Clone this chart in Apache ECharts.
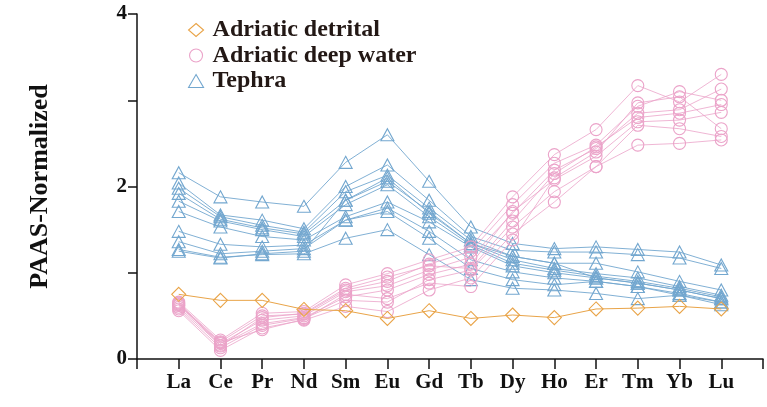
<!DOCTYPE html>
<html>
<head>
<meta charset="utf-8">
<script src="https://cdn.jsdelivr.net/npm/echarts@6/dist/echarts.min.js"></script>
<style>html,body{margin:0;padding:0;background:#fff;}#c{width:767px;height:407px;}</style>
</head>
<body>
<div id="c"></div>
<script>
const elements = ['La','Ce','Pr','Nd','Sm','Eu','Gd','Tb','Dy','Ho','Er','Tm','Yb','Lu'];
const yTicks = ['0','2','4'];

const detrital = [0.75,0.68,0.68,0.575,0.56,0.47,0.56,0.47,0.51,0.48,0.58,0.59,0.61,0.58];

const deepWater1 = [0.66,0.22,0.53,0.55,0.86,0.99,1.15,1.30,1.88,2.37,2.66,3.17,2.98,3.30];
const deepWater2 = [0.64,0.20,0.50,0.52,0.80,0.90,1.10,1.25,1.79,2.27,2.48,2.93,3.10,3.00];
const deepWater3 = [0.62,0.18,0.45,0.50,0.78,0.85,1.03,1.18,1.69,2.19,2.44,2.85,2.89,3.13];
const deepWater4 = [0.60,0.16,0.41,0.48,0.72,0.80,0.98,1.10,1.71,2.08,2.35,2.75,2.77,2.86];
const deepWater5 = [0.58,0.13,0.39,0.47,0.68,0.66,0.92,1.03,1.53,1.94,2.23,2.71,2.67,2.58];
const deepWater6 = [0.56,0.10,0.36,0.45,0.61,0.55,0.80,0.94,1.45,1.82,2.23,2.48,2.50,2.54];
const deepWater7 = [0.63,0.19,0.34,0.46,0.75,0.70,0.88,0.84,1.38,2.10,2.40,2.97,3.04,2.67];
const deepWater8 = [0.65,0.15,0.48,0.53,0.82,0.95,1.08,1.05,1.60,2.15,2.46,2.80,2.85,2.95];

const tephra1  = [2.16,1.88,1.82,1.77,2.28,2.60,2.06,1.53,1.34,1.28,1.30,1.27,1.24,1.09];
const tephra2  = [2.04,1.67,1.61,1.51,2.00,2.25,1.84,1.42,1.26,1.24,1.24,1.21,1.17,1.05];
const tephra3  = [1.98,1.65,1.55,1.47,1.94,2.13,1.75,1.38,1.19,1.11,1.11,1.01,0.90,0.80];
const tephra4  = [1.92,1.62,1.52,1.45,1.84,2.06,1.71,1.34,1.15,1.05,0.99,0.94,0.84,0.74];
const tephra5  = [1.83,1.60,1.50,1.42,1.79,2.02,1.65,1.32,1.11,1.03,0.96,0.90,0.82,0.72];
const tephra6  = [1.71,1.53,1.42,1.38,1.65,1.82,1.59,1.30,1.08,1.00,0.94,0.88,0.80,0.70];
const tephra7  = [1.48,1.33,1.30,1.32,1.61,1.75,1.48,1.15,1.01,0.94,0.90,0.84,0.76,0.66];
const tephra8  = [1.36,1.22,1.25,1.28,1.61,1.71,1.40,1.05,0.92,0.86,0.90,0.84,0.74,0.66];
const tephra9  = [1.27,1.18,1.21,1.22,1.40,1.50,1.21,0.92,0.82,0.80,0.76,0.70,0.74,0.63];
const tephra10 = [1.25,1.17,1.22,1.25,1.84,2.10,1.69,1.34,1.19,1.11,0.94,0.88,0.80,0.70];

const deepWaterSets = [deepWater1,deepWater2,deepWater3,deepWater4,deepWater5,deepWater6,deepWater7,deepWater8];
const tephraSets = [tephra1,tephra2,tephra3,tephra4,tephra5,tephra6,tephra7,tephra8,tephra9,tephra10];

const FONT = '"Liberation Serif","Times New Roman",serif';
const cats = [''].concat(elements, ['']);
const pad = a => [null].concat(a, [null]);

const C_DET = '#E9A448';
const C_DW = '#EBA3C9';
const C_TE = '#73A7CF';

function mk(name, data, color, symbol, size, lw, z) {
  return {
    name: name, type: 'line', data: pad(data), symbol: symbol, symbolSize: size,
    showSymbol: true, z: z,
    lineStyle: {color: color, width: lw},
    itemStyle: {color: 'rgba(255,255,255,0)', borderColor: color, borderWidth: 1.1},
    emphasis: {disabled: true}, animation: false
  };
}

const series = [];
tephraSets.forEach(d => series.push(mk('Tephra', d, C_TE, 'triangle', [13, 12], 0.9, 2)));
deepWaterSets.forEach(d => series.push(mk('Adriatic deep water', d, C_DW, 'circle', 12, 0.8, 3)));
series.push(mk('Adriatic detrital', detrital, C_DET, 'diamond', [14, 14], 1, 4));

const chart = echarts.init(document.getElementById('c'), null, {renderer: 'canvas'});
chart.setOption({
  animation: false,
  backgroundColor: '#fff',
  grid: {left: 137, right: 4, top: 14, bottom: 48, containLabel: false},
  legend: {
    orient: 'vertical', left: 183, top: 13,
    itemWidth: 15, itemHeight: 13, itemGap: 1.5,
    data: [
      {name: 'Adriatic detrital', icon: 'diamond', itemStyle: {color: 'rgba(255,255,255,0)', borderColor: C_DET, borderWidth: 1.1}},
      {name: 'Adriatic deep water', icon: 'circle', itemStyle: {color: 'rgba(255,255,255,0)', borderColor: C_DW, borderWidth: 1.1}},
      {name: 'Tephra', icon: 'triangle', itemStyle: {color: 'rgba(255,255,255,0)', borderColor: C_TE, borderWidth: 1.1}}
    ],
    textStyle: {fontFamily: FONT, fontWeight: 'bold', fontSize: 24, lineHeight: 20, color: '#231815', padding: [0,0,0,4]},
    selectedMode: false
  },
  xAxis: {
    type: 'category', data: cats, boundaryGap: false,
    axisLine: {lineStyle: {color: '#111', width: 1.5}},
    axisTick: {show: true, interval: 0, length: 10, lineStyle: {color: '#111', width: 1.5}},
    axisLabel: {interval: 0, fontFamily: FONT, fontWeight: 'bold', fontSize: 21, color: '#111', margin: 13},
    splitLine: {show: false}
  },
  yAxis: {
    type: 'value', min: 0, max: 4, interval: 1,
    name: 'PAAS-Normalized', nameLocation: 'middle', nameGap: 84,
    nameTextStyle: {fontFamily: FONT, fontWeight: 'bold', fontSize: 26, color: '#111'},
    axisLine: {show: true, lineStyle: {color: '#111', width: 1.5}},
    axisTick: {show: true, length: 9, lineStyle: {color: '#111', width: 1.5}},
    axisLabel: {
      fontFamily: FONT, fontWeight: 'bold', fontSize: 21, color: '#111', margin: 10,
      formatter: v => (yTicks.indexOf(String(v)) >= 0 ? String(v) : '')
    },
    splitLine: {show: false}
  },
  series: series
});
</script>
</body>
</html>
